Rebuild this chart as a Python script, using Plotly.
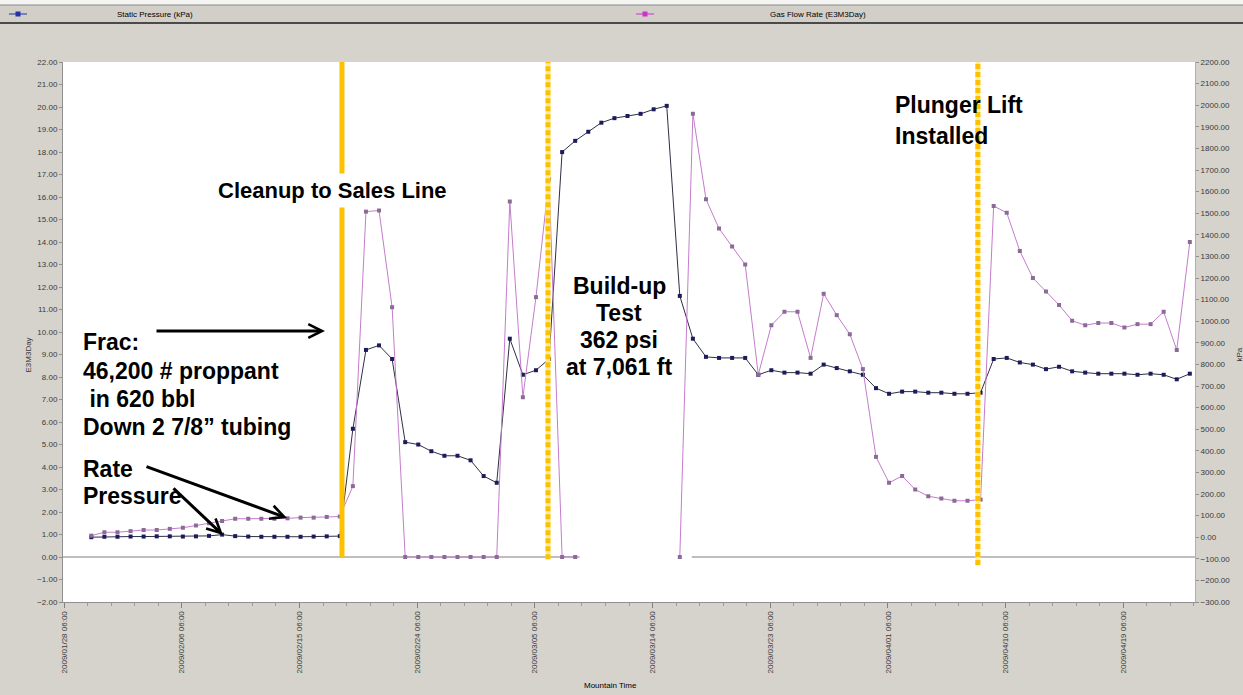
import pandas as pd
import plotly.graph_objects as go

# ---------------- data ----------------
start_date = "2009-01-30 08:00"
n_days = 85
dates = pd.date_range(start_date, periods=n_days, freq="D")

# Static pressure (kPa), right axis
static_pressure_kpa = [
    0, 2, 2, 3, 3, 4, 4, 3, 4, 6, 12, 5, 3, 2, 2, 2, 2, 3, 4, 5,
    502, 867, 888, 825, 440, 429, 398, 377, 377, 356, 283, 252, 919, 752, 773, 825, 1783, 1835,
    1877, 1919, 1940, 1950, 1960, 1981, 1997,
    1117, 919, 835, 830, 830, 830, 752, 773, 762, 762, 757, 799, 783, 768, 752, 690, 664, 674, 674, 669, 669, 664, 664, 669,
    825, 830, 809, 799, 778, 789, 768, 762, 757, 757, 757, 752, 757, 752, 731, 757,
]

# Gas flow rate (E3M3/Day), left axis
gas_rate_e3m3d = [
    0.95, 1.1, 1.1, 1.15, 1.2, 1.2, 1.25, 1.3, 1.4, 1.5, 1.6, 1.7, 1.7, 1.7, 1.7, 1.72, 1.75, 1.75, 1.78, 1.8,
    3.15, 15.35, 15.4, 11.1,
    0, 0, 0, 0, 0, 0, 0, 0,
    15.8, 7.1, 11.55, 16.8,
    0, 0,
    None, None, None, None, None, None, None,
    0,
    19.7, 15.9, 14.6, 13.8, 13.0, 8.1, 10.3, 10.9, 10.9, 8.85, 11.7, 10.75, 9.9, 8.35, 4.45, 3.3, 3.6, 3.0, 2.7, 2.6, 2.5, 2.5, 2.55,
    15.6, 15.3, 13.6, 12.4, 11.8, 11.2, 10.5, 10.3, 10.4, 10.4, 10.2, 10.35, 10.35, 10.9, 9.2, 14.0,
]

series_names = ["Static Pressure (kPa)", "Gas Flow Rate (E3M3Day)"]
event_dates = ["2009-02-18 12:00", "2009-03-06 06:00", "2009-04-08 03:00"]
event_styles = ["solid", "dotted", "dotted"]

x_range = ["2009-01-28 04:00", "2009-04-24 17:30"]
tick0 = "2009-01-28 06:00"
rate_range = [-2, 22]
pressure_range = [-300, 2200]

# ---------------- layout helpers ----------------
W, H = 1243, 695
L, R, T, B = 63, 1195, 62, 602


def px(x):
    return (x - L) / (R - L)


def py(y):
    return (B - y) / (B - T)


BLUE_LINE = "#2f2f45"
BLUE_MK = "#1c1c5c"
PINK_LINE = "#c47ccc"
PINK_MK = "#8c6a98"
GOLD = "#FFC000"
PALE = "#FFEE99"
FONT = "Liberation Sans, Arial, sans-serif"

fig = go.Figure()

# pressure on primary (right-side) axis, rate on overlaying (left-side) axis
fig.add_trace(go.Scatter(
    x=dates, y=static_pressure_kpa, name=series_names[0], yaxis="y",
    mode="lines+markers", line=dict(color=BLUE_LINE, width=1),
    marker=dict(symbol="square", size=4, color=BLUE_MK), showlegend=False,
))
fig.add_trace(go.Scatter(
    x=dates, y=gas_rate_e3m3d, name=series_names[1], yaxis="y2",
    mode="lines+markers", line=dict(color=PINK_LINE, width=1),
    marker=dict(symbol="square", size=4, color=PINK_MK), showlegend=False,
    connectgaps=False,
))

shapes = []

# zero line (left axis), interrupted during the shut-in gap
gap_first = next(i for i in range(len(gas_rate_e3m3d)) if gas_rate_e3m3d[i] is None)
gap_last = max(i for i in range(len(gas_rate_e3m3d)) if gas_rate_e3m3d[i] is None)
gap_start = dates[gap_first - 1] + pd.Timedelta(hours=8)
gap_end = dates[gap_last + 2] - pd.Timedelta(hours=2)
for a, b in [(x_range[0], gap_start), (gap_end, x_range[1])]:
    shapes.append(dict(type="line", xref="x", yref="y2", x0=a, x1=b, y0=0, y1=0,
                       line=dict(color="#a8a8a8", width=1.5), layer="below"))

# event lines
bottoms = [0, -0.1, -0.35]
for d, st, y0 in zip(event_dates, event_styles, bottoms):
    if st == "solid":
        shapes.append(dict(type="line", xref="x", yref="y2", x0=d, x1=d, y0=y0, y1=rate_range[1],
                           line=dict(color=GOLD, width=5), layer="above"))
    else:
        shapes.append(dict(type="line", xref="x", yref="y2", x0=d, x1=d, y0=y0, y1=rate_range[1],
                           line=dict(color=PALE, width=5), layer="above"))
        shapes.append(dict(type="line", xref="x", yref="y2", x0=d, x1=d, y0=y0, y1=rate_range[1],
                           line=dict(color=GOLD, width=5, dash="5px,3px"), layer="above"))

# legend bar at the top
shapes.append(dict(type="rect", xref="paper", yref="paper", x0=px(0), x1=px(W), y0=py(5), y1=py(0),
                   fillcolor="#f4f4f2", line=dict(width=0), layer="below"))
shapes.append(dict(type="rect", xref="paper", yref="paper", x0=px(0), x1=px(W), y0=py(23), y1=py(5),
                   fillcolor="#d2cfc8", line=dict(width=0), layer="below"))
shapes.append(dict(type="line", xref="paper", yref="paper", x0=px(0), x1=px(W), y0=py(5), y1=py(5),
                   line=dict(color="#8a8a8a", width=1)))
shapes.append(dict(type="line", xref="paper", yref="paper", x0=px(0), x1=px(W), y0=py(23), y1=py(23),
                   line=dict(color="#4a4a4a", width=2)))
for cx, col in [(18, "#2233aa"), (645, "#cc33cc")]:
    shapes.append(dict(type="line", xref="paper", yref="paper", x0=px(cx - 9), x1=px(cx + 9),
                       y0=py(14), y1=py(14), line=dict(color=col, width=1)))
    shapes.append(dict(type="rect", xref="paper", yref="paper", x0=px(cx - 2.5), x1=px(cx + 2.5),
                       y0=py(16.5), y1=py(11.5), fillcolor=col, line=dict(width=0)))

annotations = []


def txt(text, x, y, size=23, xanchor="left", bold=True, **kw):
    annotations.append(dict(
        text=f"<b>{text}</b>" if bold else text, xref="paper", yref="paper",
        x=px(x), y=py(y), xanchor=xanchor, yanchor="middle", showarrow=False,
        font=dict(family=FONT, size=size, color="black"), **kw))


# legend texts
txt(series_names[0], 155, 14, size=8, xanchor="center", bold=False)
txt(series_names[1], 818, 14, size=8, xanchor="center", bold=False)

# chart annotations
txt("Cleanup to Sales Line", 332, 190, size=22, xanchor="center", bgcolor="white", borderpad=4)
txt("Frac:", 81, 342)
txt("46,200 # proppant", 81, 371)
txt("\u00a0in 620 bbl", 81, 399)
txt("Down 2 7/8\u201d tubing", 81, 427)
txt("Rate", 81, 469)
txt("Pressure", 81, 496)
for line_text, yy in zip(["Build-up", "Test", "362 psi", "at 7,061 ft"], [286, 313, 340, 367]):
    txt(line_text, 619, yy, xanchor="center")
txt("Plunger Lift", 893, 105)
txt("Installed", 893, 136)


def arrow(x_tail, y_tail, x_tip, y_tip):
    annotations.append(dict(
        text="", xref="paper", yref="paper", x=px(x_tip), y=py(y_tip),
        ax=x_tail - x_tip, ay=y_tail - y_tip, showarrow=True,
        arrowhead=5, arrowsize=0.9, arrowwidth=3, arrowcolor="black"))


arrow(155, 331, 325, 331)
arrow(145, 466, 287, 518)
arrow(172, 487, 223, 535)

# axis titles
txt("Mountain Time", 610, 686, size=8, xanchor="center", bold=False)
annotations.append(dict(text="E3M3Day", xref="paper", yref="paper", x=px(22), y=py(355),
                        showarrow=False, textangle=-90, font=dict(family=FONT, size=8, color="#333")))
annotations.append(dict(text="kPa", xref="paper", yref="paper", x=px(1233), y=py(355),
                        xanchor="left", showarrow=False, textangle=-90,
                        font=dict(family=FONT, size=8, color="#333")))

tickfont = dict(family=FONT, size=8, color="#3a3a3a")

fig.update_layout(
    width=W, height=H,
    margin=dict(l=L, r=W - R, t=T, b=H - B),
    paper_bgcolor="#d6d3cc", plot_bgcolor="white",
    showlegend=False,
    shapes=shapes, annotations=annotations,
    xaxis=dict(
        type="date", range=x_range, tick0=tick0, dtick=9 * 86400000,
        tickformat="%Y/%m/%d %H:%M", tickangle=-90, tickfont=tickfont,
        showgrid=False, zeroline=False, showline=True, linecolor="#909090",
        ticks="outside", ticklen=5, tickcolor="#808080",
        minor=dict(dtick=int(1.8 * 86400000), tick0=tick0, ticks="outside", ticklen=3, tickcolor="#9a9a9a"),
    ),
    yaxis=dict(
        side="right", range=pressure_range, dtick=100, tickformat=".2f", tickfont=tickfont,
        showgrid=False, zeroline=False, showline=True, linecolor="#b0b0b0",
        ticks="outside", ticklen=3, tickcolor="#909090",
    ),
    yaxis2=dict(
        overlaying="y", side="left", range=rate_range, dtick=1, tickformat=".2f", tickfont=tickfont,
        showgrid=False, zeroline=False, showline=True, linecolor="#909090",
        ticks="outside", ticklen=3, tickcolor="#909090",
    ),
)

fig.write_html("out.html", config={"displayModeBar": False},
               post_script="document.body.style.margin='0px';")
